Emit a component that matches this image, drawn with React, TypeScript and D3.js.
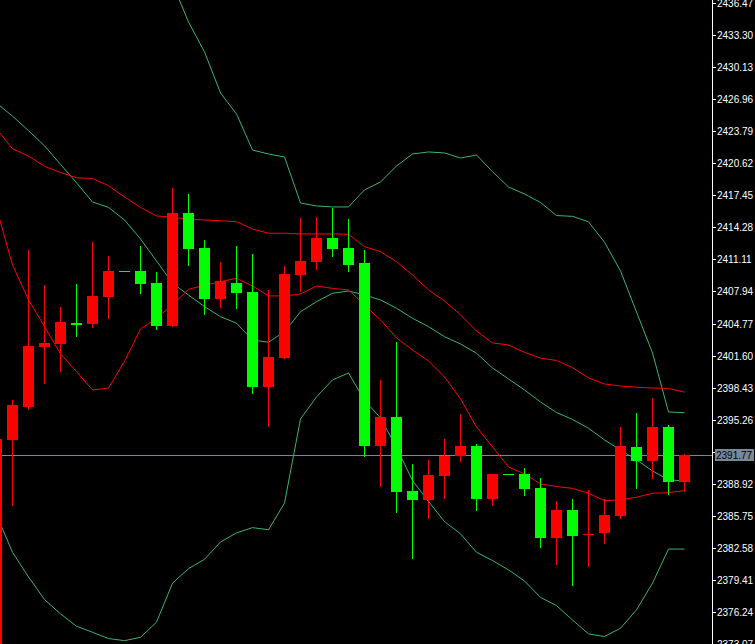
import * as d3 from "d3";

const W = 755;
const H = 644;
const AXIS_X = 712;

// candle -1 is cut off at the left edge, the last one is the live bar
const opens = [
  2371.8, 2393.28, 2396.51, 2402.45, 2402.74, 2404.82, 2404.75, 2407.39, 2409.97, 2409.99,
  2408.78, 2404.55, 2415.7, 2412.24, 2407.22, 2408.78, 2407.89, 2398.52, 2401.39, 2409.6,
  2410.89, 2413.23, 2412.24, 2410.79, 2392.69, 2395.52, 2388.2, 2387.35, 2389.72, 2391.7,
  2392.66, 2387.41, 2389.87, 2389.89, 2388.53, 2383.58, 2386.32, 2383.97, 2384.08, 2385.76,
  2392.56, 2391.2, 2394.53, 2389.12,
];
const highs = [
  2393.35, 2397.21, 2412.04, 2408.58, 2406.4, 2408.71, 2412.83, 2411.45, 2409.97, 2412.44,
  2409.87, 2418.17, 2417.58, 2413.03, 2410.89, 2412.44, 2411.65, 2408.09, 2410.46, 2415.21,
  2415.31, 2416.17, 2415.11, 2412.04, 2399.18, 2402.94, 2390.87, 2391.27, 2393.35, 2395.82,
  2392.82, 2389.89, 2389.87, 2390.48, 2389.49, 2387.21, 2387.41, 2388.3, 2387.41, 2394.53,
  2395.92, 2397.4, 2394.73, 2391.87,
];
const lows = [
  2370.5, 2386.75, 2396.22, 2398.82, 2399.97, 2403.47, 2404.36, 2405.25, 2409.95, 2407.72,
  2404.16, 2404.4, 2410.49, 2405.64, 2406.33, 2406.24, 2397.83, 2394.53, 2401.29, 2407.92,
  2410.09, 2411.38, 2409.9, 2391.6, 2388.63, 2386.06, 2381.5, 2385.46, 2387.44, 2391.1,
  2386.26, 2386.75, 2389.85, 2387.74, 2382.59, 2380.91, 2378.84, 2380.72, 2382.99, 2385.46,
  2388.43, 2389.42, 2387.84, 2388.14,
];
const closes = [
  2393.35, 2396.71, 2402.58, 2402.84, 2404.92, 2404.62, 2407.49, 2409.99, 2409.95, 2408.71,
  2404.55, 2415.7, 2412.17, 2407.22, 2408.95, 2407.82, 2398.52, 2401.46, 2409.67, 2410.95,
  2413.23, 2412.17, 2410.59, 2392.69, 2395.52, 2388.14, 2387.35, 2389.79, 2391.7, 2392.66,
  2387.41, 2389.89, 2389.85, 2388.43, 2383.58, 2386.32, 2383.78, 2383.99, 2385.83, 2392.66,
  2391.2, 2394.53, 2389.12, 2391.77,
];

// bollinger bands (green)
const bandUpper = [
  2467.33, 2468.42, 2468.02, 2467.23, 2464.96, 2462.58, 2459.32, 2458.92, 2456.65, 2452.69,
  2446.66, 2438.41, 2434.59, 2431.63, 2427.57, 2425.5, 2421.93, 2421.54, 2421.24, 2416.69,
  2416.4, 2416.3, 2416.3, 2417.98, 2418.77, 2420.35, 2421.54, 2421.74, 2421.64, 2421.14,
  2421.44, 2419.79, 2418.28, 2417.58, 2416.74, 2415.45, 2415.37, 2414.83, 2412.81, 2409.97,
  2405.91, 2401.86, 2396.02, 2395.95,
];
const bandMiddle = [
  2426.58, 2425.28, 2423.85, 2422.35, 2420.52, 2418.69, 2416.79, 2416.26, 2415.01, 2413.13,
  2410.96, 2408.75, 2407.59, 2406.44, 2405.45, 2404.8, 2403.14, 2402.92, 2403.96, 2405.94,
  2406.93, 2407.76, 2407.99, 2407.59, 2407.1, 2406.28, 2405.29, 2404.46, 2403.47, 2402.75,
  2401.83, 2400.37, 2399.29, 2398.2, 2397.01, 2395.97, 2395.28, 2394.41, 2393.25, 2392.26,
  2391.28, 2390.19, 2389.3, 2389.2,
];
const bandLower = [
  2385.84, 2382.14, 2379.7, 2377.47, 2376.05, 2374.83, 2374.23, 2373.61, 2373.4, 2373.73,
  2375.23, 2379.09, 2380.52, 2381.45, 2383.16, 2384.06, 2384.58, 2384.37, 2387.01, 2395.33,
  2397.51, 2399.19, 2399.88, 2397.17, 2395.43, 2392.51, 2389.24, 2387.17, 2385.18, 2383.97,
  2382.14, 2381.33, 2380.4, 2379.3, 2377.68, 2376.87, 2375.44, 2374.07, 2373.81, 2374.63,
  2376.45, 2379.09, 2382.46, 2382.46,
];

// second channel (red)
const channelUpper = [
  2424.01, 2422.06, 2421.33, 2420.32, 2419.71, 2419.19, 2419.11, 2418.41, 2417.28, 2416.26,
  2415.41, 2415.28, 2415.11, 2415.01, 2414.94, 2414.84, 2414.12, 2413.7, 2413.7, 2413.63,
  2413.63, 2413.63, 2413.6, 2412.37, 2411.88, 2410.89, 2409.57, 2408.09, 2407.0, 2405.62,
  2404.03, 2402.85, 2402.65, 2401.92, 2401.35, 2401.11, 2400.41, 2399.39, 2398.79, 2398.59,
  2398.47, 2398.39, 2398.35, 2397.98,
];
const channelLower = [
  2416.2, 2410.56, 2407.1, 2404.48, 2401.76, 2400.01, 2398.19, 2398.39, 2401.03, 2404.23,
  2405.29, 2406.61, 2408.16, 2408.55, 2408.91, 2409.25, 2408.48, 2407.5, 2407.5, 2407.69,
  2408.48, 2408.24, 2408.09, 2406.61, 2405.12, 2403.34, 2402.15, 2401.07, 2399.48, 2397.31,
  2394.54, 2392.56, 2390.58, 2389.89, 2388.9, 2388.65, 2388.46, 2387.98, 2387.25, 2387.32,
  2387.59, 2387.98, 2388.04, 2388.24,
];

const priceTicks = [
  "2436.47", "2433.30", "2430.13", "2426.96", "2423.79", "2420.62", "2417.45",
  "2414.28", "2411.11", "2407.94", "2404.77", "2401.60", "2398.43", "2395.26",
  "2392.09", "2388.92", "2385.75", "2382.58", "2379.41", "2376.24", "2373.07",
];
const lastPrice = 2391.77;

const UP = "#ff0000";
const DOWN = "#00ff00";
const BAND = "#3cb371";
const BID = "#778899";

export default function App() {
  const x = d3
    .scaleLinear()
    .domain([0, opens.length - 1])
    .range([-3.5, 684.5]);
  const y = d3.scaleLinear().domain([2373.07, 2436.77]).range([H, 0]);

  const path = (vals: number[]) =>
    d3
      .line<number>()
      .x((_, i) => x(i))
      .y((d) => y(d))(vals) || "";

  const lastY = Math.round(y(lastPrice)) + 0.5;

  return (
    <svg
      width={W}
      height={H}
      style={{ position: "absolute", left: 0, top: 0, background: "#000" }}
      fontFamily="'Liberation Sans', Arial, sans-serif"
    >
      <rect width={W} height={H} fill="#000" />

      {/* bid line */}
      <line x1={0} x2={AXIS_X} y1={lastY} y2={lastY} stroke={BID} shapeRendering="crispEdges" />

      {/* indicator lines */}
      <g fill="none" strokeWidth={1}>
        <path d={path(bandUpper)} stroke={BAND} />
        <path d={path(bandMiddle)} stroke={BAND} />
        <path d={path(bandLower)} stroke={BAND} />
        <path d={path(channelUpper)} stroke={UP} />
        <path d={path(channelLower)} stroke={UP} />
      </g>

      {/* candles */}
      <g shapeRendering="crispEdges">
        {opens.map((o, i) => {
          const c = closes[i];
          const color = c > o ? UP : DOWN;
          const cx = Math.round(x(i) - 0.5);
          const top = Math.round(y(Math.max(o, c)));
          const bot = Math.round(y(Math.min(o, c)));
          const hiY = Math.round(y(highs[i]));
          const loY = Math.round(y(lows[i]));
          return (
            <g key={i} fill={color}>
              <rect x={cx} y={hiY} width={1} height={Math.max(1, loY - hiY)} />
              <rect x={cx - 5} y={top} width={11} height={Math.max(1, bot - top)} />
            </g>
          );
        })}
      </g>

      {/* price scale */}
      <g shapeRendering="crispEdges">
        <line x1={AXIS_X + 0.5} x2={AXIS_X + 0.5} y1={0} y2={H} stroke="#fff" />
        {priceTicks.map((t) => {
          const ty = Math.round(y(+t)) + 0.5;
          // the bid label sits on top of the scale and hides the tick label under it
          const hidden = Math.abs(ty - lastY) < 10;
          return (
            <g key={t}>
              <line x1={AXIS_X} x2={AXIS_X + 4} y1={ty} y2={ty} stroke="#fff" />
              {!hidden && (
                <text x={AXIS_X + 5} y={ty} dy="0.35em" fontSize={10} fill="#fff">
                  {t}
                </text>
              )}
            </g>
          );
        })}
        <rect x={715} y={lastY - 6.5} width={39} height={12} fill={BID} />
        <text x={716} y={lastY} dy="0.35em" fontSize={10} fill="#000">
          {lastPrice.toFixed(2)}
        </text>
      </g>
    </svg>
  );
}
